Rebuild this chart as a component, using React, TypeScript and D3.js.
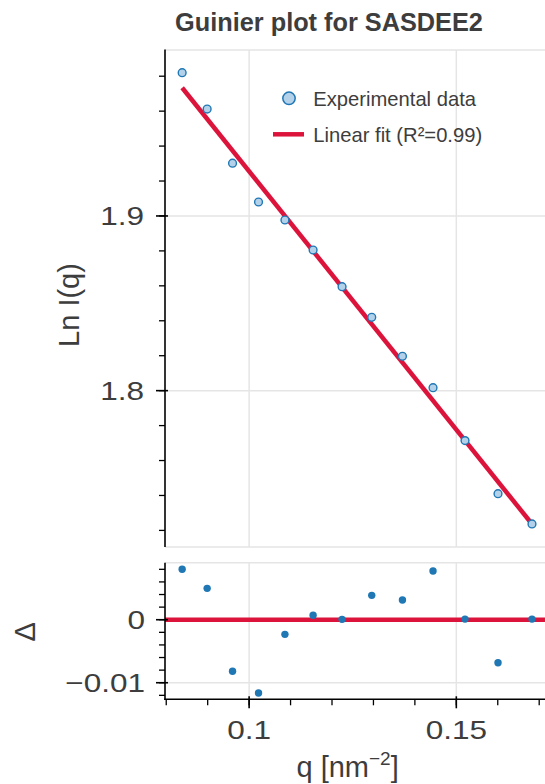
import React from "react";
import * as d3 from "d3";

// ---- data ----
const qValues = [0.08384, 0.08987, 0.0960, 0.10227, 0.10864, 0.11544, 0.12243, 0.12959, 0.13700, 0.14438, 0.15210, 0.16006, 0.16826];
const lnI = [1.9820, 1.9612, 1.9302, 1.9080, 1.8977, 1.8805, 1.8595, 1.8420, 1.8197, 1.8017, 1.7714, 1.7410, 1.7237];
const residuals = [0.0080, 0.00498, -0.00819, -0.01163, -0.00232, 0.0007, 0.00006, 0.00387, 0.00313, 0.00773, 0.0001, -0.00683, 0.0001];
const fitQ = [0.08384, 0.16811];
const fitLn = [1.9734, 1.7241];

const xMajorTicks = [0.1, 0.15];
const xTickLabels = ["0.1", "0.15"];
const xMinorTicks = [0.08, 0.09, 0.1, 0.11, 0.12, 0.13, 0.14, 0.15, 0.16, 0.17];
const yTopMajorTicks = [1.8, 1.9];
const yTopTickLabels = ["1.8", "1.9"];
const yTopMinorTicks = [1.72, 1.74, 1.76, 1.78, 1.8, 1.82, 1.84, 1.86, 1.88, 1.9, 1.92, 1.94, 1.96, 1.98];
const yResMajorTicks = [0, -0.01];
const yResTickLabels = ["0", "\u22120.01"];
const yResMinorTicks = [-0.012, -0.01, -0.008, -0.006, -0.004, -0.002, 0, 0.002, 0.004, 0.006, 0.008];

const title = "Guinier plot for SASDEE2";
const legendLabels = ["Experimental data", "Linear fit (R\u00b2=0.99)"];

// ---- layout ----
const W = 545;
const H = 784;
const left = 165;
const right = 545;
const topT = 50;
const topB = 547;
const resT = 562.7;
const resB = 699.3;

const FONT = "'Liberation Sans', Arial, Helvetica, sans-serif";
const TEXT = "#3d3d3d";
const GRID = "#e5e5e5";
const RED = "#dc143c";
const BLUE = "#1f77b4";
const LIGHT = "#b4d1ea";

export default function App() {
  const x = d3.scaleLinear().domain([0.0797, 0.1714]).range([left, right]);
  const yT = d3.scaleLinear().domain([1.7105, 1.995]).range([topB, topT]);
  const yR = d3.scaleLinear().domain([-0.01263, 0.00905]).range([resB, resT]);

  const fitPath = d3
    .line<number>()
    .x((d, i) => x(fitQ[i]))
    .y((d) => yT(d))(fitLn) as string;

  const tickFs = 26.5;
  const stretch = 1.19;

  return (
    <svg
      width={W}
      height={H}
      style={{ position: "absolute", left: 0, top: 0, background: "#fff" }}
      fontFamily={FONT}
    >
      <rect x={0} y={0} width={W} height={H} fill="#fff" />
      {/* title */}
      <text x={329} y={31} textAnchor="middle" fontSize={25.3} fontWeight="bold" fill={TEXT}>
        {title}
      </text>

      {/* ---------- top panel ---------- */}
      <g>
        {xMajorTicks.map((t) => (
          <line key={"gx" + t} x1={x(t)} x2={x(t)} y1={topT} y2={topB} stroke={GRID} strokeWidth={1.5} />
        ))}
        {yTopMajorTicks.map((t) => (
          <line key={"gy" + t} x1={left} x2={right} y1={yT(t)} y2={yT(t)} stroke={GRID} strokeWidth={1.5} />
        ))}
        <line x1={left} x2={right} y1={topT} y2={topT} stroke={GRID} strokeWidth={1.5} />
        <line x1={left} x2={right} y1={topB} y2={topB} stroke={GRID} strokeWidth={1.5} />

        <path d={fitPath} stroke={RED} strokeWidth={4.5} fill="none" />
        {qValues.map((q, i) => (
          <circle key={"p" + i} cx={x(q)} cy={yT(lnI[i])} r={3.9} fill={LIGHT} stroke={BLUE} strokeWidth={1.4} />
        ))}

        {/* left axis */}
        <line x1={left} x2={left} y1={topT - 0.5} y2={topB} stroke="#000" strokeWidth={1.6} />
        {yTopMinorTicks.map((t) => (
          <line key={"mt" + t} x1={left - 6} x2={left} y1={yT(t)} y2={yT(t)} stroke="#000" strokeWidth={1.3} />
        ))}
        {yTopMajorTicks.map((t, i) => (
          <g key={"Mt" + t}>
            <line x1={left - 9} x2={left + 3} y1={yT(t)} y2={yT(t)} stroke="#000" strokeWidth={1.6} />
            <text
              transform={`translate(${left - 21},${yT(t) + 9.5}) scale(${stretch},1)`}
              textAnchor="end"
              fontSize={tickFs}
              fill={TEXT}
            >
              {yTopTickLabels[i]}
            </text>
          </g>
        ))}
        <text
          transform={`translate(79,305) rotate(-90)`}
          textAnchor="middle"
          fontSize={29}
          fill={TEXT}
        >
          Ln I(q)
        </text>

        {/* legend */}
        <circle cx={289} cy={98.3} r={6.2} fill={LIGHT} stroke={BLUE} strokeWidth={1.5} />
        <text x={313.3} y={105.5} fontSize={20.2} fill={TEXT}>
          {legendLabels[0]}
        </text>
        <line x1={273} x2={304} y1={134.3} y2={134.3} stroke={RED} strokeWidth={4.5} />
        <text x={313.3} y={141.5} fontSize={20.2} fill={TEXT}>
          {legendLabels[1]}
        </text>
      </g>

      {/* ---------- residual panel ---------- */}
      <g>
        {xMajorTicks.map((t) => (
          <line key={"rgx" + t} x1={x(t)} x2={x(t)} y1={resT} y2={resB} stroke={GRID} strokeWidth={1.5} />
        ))}
        {yResMajorTicks.map((t) => (
          <line key={"rgy" + t} x1={left} x2={right} y1={yR(t)} y2={yR(t)} stroke={GRID} strokeWidth={1.5} />
        ))}
        <line x1={left} x2={right} y1={resT} y2={resT} stroke={GRID} strokeWidth={1.5} />

        <line x1={left} x2={right} y1={yR(0)} y2={yR(0)} stroke={RED} strokeWidth={4.5} />
        {qValues.map((q, i) => (
          <circle key={"r" + i} cx={x(q)} cy={yR(residuals[i])} r={3.7} fill={BLUE} />
        ))}

        <line x1={left} x2={left} y1={resT} y2={resB + 0.8} stroke="#000" strokeWidth={1.6} />
        {yResMinorTicks.map((t) => (
          <line key={"rmt" + t} x1={left - 6} x2={left} y1={yR(t)} y2={yR(t)} stroke="#000" strokeWidth={1.3} />
        ))}
        {yResMajorTicks.map((t, i) => (
          <g key={"rMt" + t}>
            <line x1={left - 9} x2={left + 3} y1={yR(t)} y2={yR(t)} stroke="#000" strokeWidth={1.6} />
            <text
              transform={`translate(${left - 20},${yR(t) + 9.5}) scale(${stretch},1)`}
              textAnchor="end"
              fontSize={tickFs}
              fill={TEXT}
            >
              {yResTickLabels[i]}
            </text>
          </g>
        ))}
        <text transform={`translate(34.5,631.7) rotate(-90)`} textAnchor="middle" fontSize={29} fill={TEXT}>
          {"\u0394"}
        </text>

        {/* bottom axis */}
        <line x1={left - 0.8} x2={right} y1={resB} y2={resB} stroke="#000" strokeWidth={1.6} />
        {xMinorTicks.map((t) => (
          <line key={"xmt" + t} x1={x(t)} x2={x(t)} y1={resB} y2={resB + 6} stroke="#000" strokeWidth={1.3} />
        ))}
        {xMajorTicks.map((t, i) => (
          <g key={"xMt" + t}>
            <line x1={x(t)} x2={x(t)} y1={resB - 3} y2={resB + 9} stroke="#000" strokeWidth={1.6} />
            <text
              transform={`translate(${x(t)},739) scale(${stretch},1)`}
              textAnchor="middle"
              fontSize={tickFs}
              fill={TEXT}
            >
              {xTickLabels[i]}
            </text>
          </g>
        ))}
        <text x={347.6} y={777} textAnchor="middle" fontSize={29} fill={TEXT}>
          q [nm
          <tspan fontSize={19} dy={-12}>{"\u22122"}</tspan>
          <tspan dy={12}>]</tspan>
        </text>
      </g>
    </svg>
  );
}
